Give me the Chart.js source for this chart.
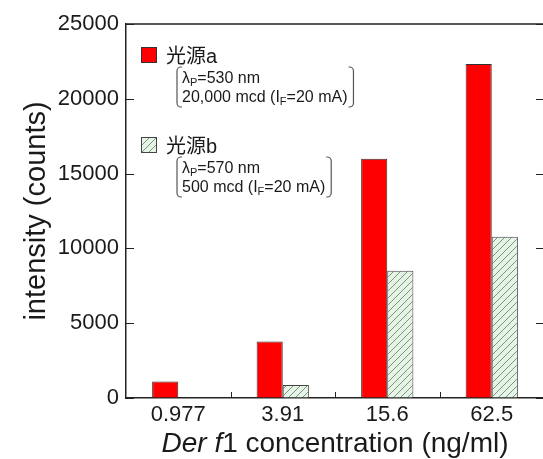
<!DOCTYPE html>
<html>
<head>
<meta charset="utf-8">
<script src="https://cdn.jsdelivr.net/npm/chart.js@4"></script>
<style>
  html, body { margin:0; padding:0; background:#fff; overflow:hidden; }
  #wrap { width:543px; height:459px; overflow:hidden; }
</style>
</head>
<body>
<div id="wrap"><canvas id="chart" width="546" height="459"></canvas></div>
<script>
// concentrations (ng/ml)
var categories = ['0.977', '3.91', '15.6', '62.5'];
// light source a, intensity (counts)
var sourceA = [1100, 3770, 16000, 22330];
// light source b, intensity (counts) - nothing at 0.977
var sourceB = [null, 870, 8500, 10780];
var yTicks = [0, 5000, 10000, 15000, 20000, 25000];

var seriesNames = ['光源a', '光源b'];
// bracket notes under each legend entry, [text, subscript?]
var noteA = [[['λ', 0], ['P', 1], ['=530 nm', 0]], [['20,000 mcd (I', 0], ['F', 1], ['=20 mA)', 0]]];
var noteB = [[['λ', 0], ['P', 1], ['=570 nm', 0]], [['500 mcd (I', 0], ['F', 1], ['=20 mA)', 0]]];

var FONT = '"Liberation Sans", Arial, "Noto Sans CJK JP", sans-serif';
Chart.defaults.font.family = FONT;
Chart.defaults.color = '#1a1a1a';

function makeHatch(){
  var c = document.createElement('canvas');
  c.width = 7; c.height = 7;
  var g = c.getContext('2d');
  g.fillStyle = '#e6f3e6';
  g.fillRect(0, 0, 7, 7);
  g.strokeStyle = '#6f9a7c';
  g.lineWidth = 1;
  g.beginPath();
  g.moveTo(0, 7); g.lineTo(7, 0);
  g.moveTo(-1, 1); g.lineTo(1, -1);
  g.moveTo(6, 8); g.lineTo(8, 6);
  g.stroke();
  return g.createPattern(c, 'repeat');
}
var hatch = makeHatch();

// inward ticks + frame on top/right
var frame = {
  id: 'frame',
  afterDraw: function(chart){
    var ctx = chart.ctx, a = chart.chartArea;
    var y = chart.scales.y, x = chart.scales.x;
    ctx.save();
    ctx.strokeStyle = '#222';
    ctx.lineWidth = 1.5;
    ctx.beginPath();
    ctx.moveTo(a.left, a.top); ctx.lineTo(a.right, a.top); ctx.lineTo(a.right, a.bottom);
    ctx.stroke();
    ctx.lineWidth = 1;
    ctx.beginPath();
    yTicks.forEach(function(v){
      var py = Math.round(y.getPixelForValue(v)) + 0.5;
      ctx.moveTo(a.left, py); ctx.lineTo(a.left + 8, py);
      ctx.moveTo(a.right, py); ctx.lineTo(a.right - 8, py);
    });
    for (var i = 1; i < categories.length; i++){
      var px = Math.round((x.getPixelForValue(i - 1) + x.getPixelForValue(i)) / 2) + 0.5;
      ctx.moveTo(px, a.bottom); ctx.lineTo(px, a.bottom - 6);
    }
    ctx.stroke();

    // x title, "Der f" in italics
    var parts = [['Der f', 'italic 28px ' + FONT], ['1 concentration (ng/ml)', '28px ' + FONT]];
    var w = 0;
    parts.forEach(function(p){ ctx.font = p[1]; w += ctx.measureText(p[0]).width; });
    var tx = (a.left + a.right) / 2 - w / 2;
    ctx.fillStyle = '#1a1a1a';
    ctx.textBaseline = 'alphabetic';
    parts.forEach(function(p){
      ctx.font = p[1];
      ctx.fillText(p[0], tx, 452);
      tx += ctx.measureText(p[0]).width;
    });
    ctx.restore();
  }
};

function drawNote(ctx, lines, x, top){
  ctx.fillStyle = '#1a1a1a';
  var maxW = 0;
  lines.forEach(function(line, k){
    var tx = x + 5, by = top + 16 + k * 19;
    line.forEach(function(seg){
      if (seg[1]) { ctx.font = '11px ' + FONT; ctx.fillText(seg[0], tx, by + 3); }
      else { ctx.font = '16px ' + FONT; ctx.fillText(seg[0], tx, by); }
      tx += ctx.measureText(seg[0]).width;
    });
    maxW = Math.max(maxW, tx - x);
  });
  var r = x + maxW + 6, b = top + 40;
  ctx.strokeStyle = '#555';
  ctx.lineWidth = 1.2;
  ctx.beginPath();
  ctx.moveTo(x + 5, top); ctx.arcTo(x, top, x, top + 5, 4); ctx.arcTo(x, b, x + 5, b, 4); ctx.lineTo(x + 5, b);
  ctx.moveTo(r - 5, top); ctx.arcTo(r, top, r, top + 5, 4); ctx.arcTo(r, b, r - 5, b, 4); ctx.lineTo(r - 5, b);
  ctx.stroke();
}

var legendBox = {
  id: 'legendBox',
  afterDraw: function(chart){
    var ctx = chart.ctx;
    var notes = [noteA, noteB];
    ctx.save();
    ctx.textBaseline = 'alphabetic';
    chart.data.datasets.forEach(function(ds, i){
      var top = 47 + i * 90;
      ctx.fillStyle = ds.backgroundColor;
      ctx.fillRect(141, top, 16, 16);
      ctx.strokeStyle = ds.borderColor;
      ctx.lineWidth = 1;
      ctx.strokeRect(141.5, top + 0.5, 15, 15);
      ctx.fillStyle = '#1a1a1a';
      ctx.font = '20px ' + FONT;
      ctx.fillText(ds.label, 166, top + 16);
      drawNote(ctx, notes[i], 177, top + 20);
    });
    ctx.restore();
  }
};

new Chart(document.getElementById('chart'), {
  type: 'bar',
  data: {
    labels: categories,
    datasets: [
      { label: seriesNames[0], data: sourceA, backgroundColor: '#ff0000', borderColor: '#333', borderWidth: 1 },
      { label: seriesNames[1], data: sourceB, backgroundColor: hatch, borderColor: '#444', borderWidth: 1 }
    ]
  },
  options: {
    responsive: false,
    animation: false,
    devicePixelRatio: 1,
    layout: { padding: { left: 0, top: 24, right: 2, bottom: 0 } },
    datasets: { bar: { categoryPercentage: 0.5, barPercentage: 1.0 } },
    plugins: { legend: { display: false }, tooltip: { enabled: false } },
    scales: {
      x: {
        grid: { drawOnChartArea: false, drawTicks: false },
        border: { color: '#222', width: 1.5 },
        ticks: { font: { size: 22 }, padding: 4, color: '#1a1a1a' },
        afterFit: function(s){ s.height = 61; }
      },
      y: {
        min: 0, max: 25000,
        grid: { drawOnChartArea: false, drawTicks: false },
        border: { color: '#222', width: 1.5 },
        ticks: { stepSize: 5000, font: { size: 22 }, padding: 7, color: '#1a1a1a',
          callback: function(v){ return String(v); } },
        title: { display: true, text: 'intensity (counts)', font: { size: 29 }, color: '#1a1a1a', padding: { top: 20, bottom: 0 } },
        afterFit: function(s){ s.width = 126; }
      }
    }
  },
  plugins: [frame, legendBox]
});
</script>
</body>
</html>
